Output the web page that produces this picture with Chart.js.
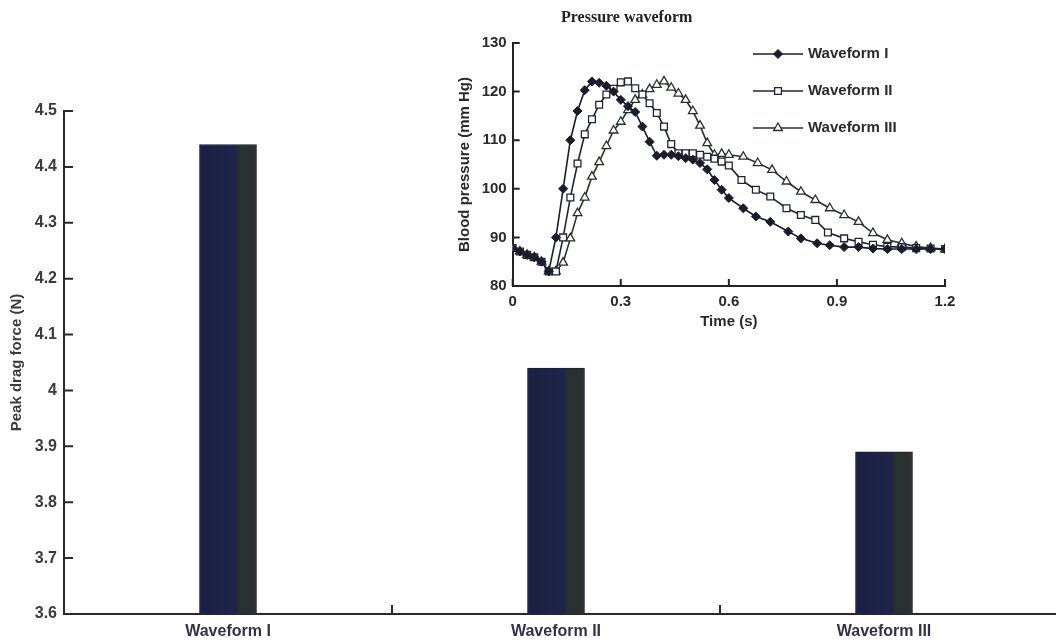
<!DOCTYPE html>
<html>
<head>
<meta charset="utf-8">
<script src="https://cdn.jsdelivr.net/npm/chart.js@4.4.1/dist/chart.umd.min.js"></script>
<style>
html,body{margin:0;padding:0;background:#fff;}
#wrap{position:relative;width:1056px;height:643px;overflow:hidden;}
#dragChart{position:absolute;left:0;top:0;}
#waveChart{position:absolute;left:450px;top:0;}
#insetTitle{position:absolute;left:561px;top:7px;font:bold 16px "Liberation Serif","Times New Roman",serif;line-height:20px;color:#222;white-space:nowrap;}
</style>
</head>
<body>
<div id="wrap">
  <canvas id="dragChart" width="1056" height="643"></canvas>
  <canvas id="waveChart" width="520" height="340"></canvas>
  <div id="insetTitle">Pressure waveform</div>
</div>
<script>
// main bar chart
const waveNames = ['Waveform I', 'Waveform II', 'Waveform III'];
const dragForce = [4.44, 4.04, 3.89];
const dragTicks = [3.6, 3.7, 3.8, 3.9, 4.0, 4.1, 4.2, 4.3, 4.4, 4.5];

// inset: pressure waveforms
const timeTicks = [0, 0.3, 0.6, 0.9, 1.2];
const pressureTicks = [80, 90, 100, 110, 120, 130];

const wave1Time = [0,0.02,0.04,0.06,0.08,0.10,0.12,0.14,0.16,0.18,0.20,0.22,0.24,0.26,0.28,0.30,0.32,0.34,0.36,0.38,0.40,0.42,0.44,0.46,0.48,0.50,0.52,0.54,0.56,0.58,0.60,0.64,0.675,0.715,0.765,0.80,0.845,0.88,0.92,0.96,1.0,1.04,1.08,1.12,1.16,1.2];
const wave1Pressure = [87.8,87.1,86.4,85.9,85.0,83.0,90.0,100.0,110.0,116.0,120.3,122.1,121.8,121.2,120.0,118.3,117.0,115.8,112.8,109.7,106.8,107.0,107.0,106.7,106.3,106.0,105.3,104.0,101.8,99.8,98.1,96.0,94.3,93.2,91.2,89.8,88.8,88.4,88.0,88.0,87.7,87.6,87.6,87.6,87.6,87.6];

const wave2Time = [0,0.02,0.04,0.06,0.08,0.10,0.12,0.14,0.16,0.18,0.20,0.22,0.24,0.26,0.28,0.30,0.32,0.34,0.36,0.38,0.40,0.42,0.44,0.46,0.48,0.50,0.52,0.54,0.56,0.58,0.60,0.635,0.675,0.715,0.76,0.80,0.84,0.875,0.92,0.96,1.0,1.04,1.08,1.12,1.16,1.2];
const wave2Pressure = [87.8,87.1,86.4,85.9,85.0,83.0,83.0,90.0,98.2,105.2,111.2,114.3,117.3,119.4,120.6,121.9,122.1,120.7,119.4,117.6,115.6,112.8,109.2,107.3,107.3,107.3,107.0,106.6,106.2,105.6,104.8,101.8,99.8,98.4,96.0,94.6,93.6,91.0,89.8,89.1,88.5,88.1,88.0,87.8,87.7,87.6];

const wave3Time = [0,0.02,0.04,0.06,0.08,0.10,0.12,0.14,0.16,0.18,0.20,0.22,0.24,0.26,0.28,0.30,0.32,0.34,0.36,0.38,0.40,0.42,0.44,0.46,0.48,0.50,0.52,0.54,0.56,0.58,0.60,0.64,0.68,0.72,0.76,0.80,0.84,0.88,0.92,0.96,1.0,1.04,1.08,1.12,1.16,1.2];
const wave3Pressure = [87.8,87.1,86.4,85.9,85.0,83.0,83.0,84.8,89.8,95.0,98.2,102.5,105.5,108.8,112.0,113.8,116.2,118.3,119.4,120.5,121.4,122.1,120.8,119.6,118.3,116.0,113.0,109.4,107.0,107.2,107.0,106.6,105.3,103.9,101.5,99.4,97.7,96.0,94.6,93.2,90.9,89.5,88.8,88.1,87.8,87.6];

const sans = '"Liberation Sans", Arial, sans-serif';

// ticks drawn inside the plot area, like the original figure
const inwardTicks = {
  id: 'inwardTicks',
  afterDatasetsDraw(chart, args, o){
    const {ctx, chartArea: a, scales} = chart;
    ctx.save();
    ctx.strokeStyle = o.color; ctx.lineWidth = o.width;
    ctx.beginPath();
    scales.y.ticks.forEach(t=>{
      const py = scales.y.getPixelForValue(t.value);
      ctx.moveTo(a.left, py); ctx.lineTo(a.left + o.len, py);
    });
    const xs = scales.x;
    if(o.boundaries){
      for(let i=0;i<chart.data.labels.length-1;i++){
        const px = (xs.getPixelForValue(i) + xs.getPixelForValue(i+1)) / 2;
        ctx.moveTo(px, a.bottom); ctx.lineTo(px, a.bottom - o.len);
      }
    }else{
      xs.ticks.forEach(t=>{
        const px = xs.getPixelForValue(t.value);
        ctx.moveTo(px, a.bottom); ctx.lineTo(px, a.bottom - o.len);
      });
    }
    if(o.extendTo){ ctx.moveTo(a.right, a.bottom); ctx.lineTo(o.extendTo, a.bottom); }
    ctx.stroke();
    ctx.restore();
  }
};

function barFill(c){
  const chart = c.chart;
  const xs = chart.scales && chart.scales.x;
  if(!xs || c.dataIndex === undefined) return '#1f2447';
  const cx = xs.getPixelForValue(c.dataIndex);
  if(!isFinite(cx)) return '#1f2447';
  const g = chart.ctx.createLinearGradient(cx - 28.5, 0, cx + 28.5, 0);
  g.addColorStop(0, '#1b2045');
  g.addColorStop(0.64, '#1f2548');
  g.addColorStop(0.69, '#283131');
  g.addColorStop(1, '#2b3230');
  return g;
}

new Chart(document.getElementById('dragChart'), {
  type: 'bar',
  data: {
    labels: waveNames,
    datasets: [{ data: dragForce, backgroundColor: barFill, borderColor: '#1b1e30', borderWidth: 1, barThickness: 57 }]
  },
  options: {
    responsive: false, animation: false, devicePixelRatio: 1,
    layout: { padding: { top: 111, right: 8, left: 0, bottom: 0 } },
    plugins: {
      legend: { display: false }, tooltip: { enabled: false },
      inwardTicks: { len: 9, color: '#2a2a2a', width: 2, boundaries: true, extendTo: 1056 }
    },
    scales: {
      x: {
        grid: { display: true, drawOnChartArea: false, drawTicks: false },
        border: { display: true, color: '#2a2a2a', width: 2 },
        ticks: { padding: 8, color: '#35304a', font: { family: sans, size: 16, weight: 'bold' } },
        afterFit: s=>{ s.height = 29; }
      },
      y: {
        min: 3.6, max: 4.5,
        afterBuildTicks: s=>{ s.ticks = dragTicks.map(v=>({ value: v })); },
        grid: { display: true, drawOnChartArea: false, drawTicks: false },
        border: { display: true, color: '#2a2a2a', width: 2 },
        ticks: { padding: 7, color: '#3b3b3b', font: { family: sans, size: 16, weight: 'bold' }, callback: v=>String(+Number(v).toFixed(1)) },
        title: { display: true, text: 'Peak drag force (N)', color: '#3b3b3b', padding: { top: 8, bottom: 0 }, font: { family: sans, size: 15, weight: 'bold' } },
        afterFit: s=>{ s.width = 64; }
      }
    }
  },
  plugins: [inwardTicks]
});

// legend drawn inside the inset plot area
const waveLegend = {
  id: 'waveLegend',
  afterDraw(chart, args, o){
    const ctx = chart.ctx;
    chart.data.datasets.forEach((ds, i)=>{
      const y = o.top + i * o.rowGap;
      const mx = o.left + o.lineLen / 2;
      ctx.save();
      ctx.strokeStyle = ds.borderColor; ctx.lineWidth = ds.borderWidth;
      ctx.beginPath(); ctx.moveTo(o.left, y); ctx.lineTo(o.left + o.lineLen, y); ctx.stroke();
      ctx.fillStyle = ds.pointBackgroundColor; ctx.strokeStyle = ds.pointBorderColor; ctx.lineWidth = ds.pointBorderWidth;
      if(Chart.helpers && Chart.helpers.drawPoint){
        Chart.helpers.drawPoint(ctx, { pointStyle: ds.pointStyle, radius: ds.pointRadius, borderWidth: ds.pointBorderWidth, rotation: 0 }, mx, y);
      }else{
        ctx.fillRect(mx - 3, y - 3, 6, 6); ctx.strokeRect(mx - 3, y - 3, 6, 6);
      }
      ctx.fillStyle = o.color; ctx.font = o.font; ctx.textBaseline = 'middle'; ctx.textAlign = 'left';
      ctx.fillText(ds.label, o.left + o.lineLen + o.gap, y);
      ctx.restore();
    });
  }
};

const toPoints = (ts, ps)=>ts.map((t, i)=>({ x: t, y: ps[i] }));

new Chart(document.getElementById('waveChart'), {
  type: 'line',
  data: {
    datasets: [
      { label: 'Waveform I', data: toPoints(wave1Time, wave1Pressure), borderColor: '#1a1c2c', borderWidth: 1.6, tension: 0, fill: false,
        pointStyle: 'rectRot', pointRadius: 4.5, pointBackgroundColor: '#1a1c2c', pointBorderColor: '#1a1c2c', pointBorderWidth: 1 },
      { label: 'Waveform II', data: toPoints(wave2Time, wave2Pressure), borderColor: '#1f2336', borderWidth: 1.6, tension: 0, fill: false,
        pointStyle: 'rect', pointRadius: 4.8, pointBackgroundColor: '#ffffff', pointBorderColor: '#1f2336', pointBorderWidth: 1.3 },
      { label: 'Waveform III', data: toPoints(wave3Time, wave3Pressure), borderColor: '#263326', borderWidth: 1.6, tension: 0, fill: false,
        pointStyle: 'triangle', pointRadius: 5, pointBackgroundColor: '#ffffff', pointBorderColor: '#263326', pointBorderWidth: 1.3 }
    ]
  },
  options: {
    responsive: false, animation: false, devicePixelRatio: 1,
    layout: { padding: { top: 43, right: 25, left: 0, bottom: 0 } },
    plugins: {
      legend: { display: false }, tooltip: { enabled: false },
      inwardTicks: { len: 7, color: '#222', width: 2, boundaries: false },
      waveLegend: { left: 303, top: 54, rowGap: 37, lineLen: 50, gap: 5, color: '#2a2a2a', font: 'bold 15px ' + sans }
    },
    scales: {
      x: {
        type: 'linear', min: 0, max: 1.2,
        afterBuildTicks: s=>{ s.ticks = timeTicks.map(v=>({ value: v })); },
        grid: { display: true, drawOnChartArea: false, drawTicks: false },
        border: { display: true, color: '#222', width: 2 },
        ticks: { padding: 7, color: '#2a2a2a', font: { family: sans, size: 15, weight: 'bold' }, callback: v=>String(v) },
        title: { display: true, text: 'Time (s)', color: '#2a2a2a', padding: { top: 0, bottom: 9 }, font: { family: sans, size: 15, weight: 'bold' } },
        afterFit: s=>{ s.height = 54; }
      },
      y: {
        min: 80, max: 130,
        afterBuildTicks: s=>{ s.ticks = pressureTicks.map(v=>({ value: v })); },
        grid: { display: true, drawOnChartArea: false, drawTicks: false },
        border: { display: true, color: '#222', width: 2 },
        ticks: { padding: 6, color: '#2a2a2a', font: { family: sans, size: 15, weight: 'bold' } },
        title: { display: true, text: 'Blood pressure (mm Hg)', color: '#2a2a2a', padding: { top: 6, bottom: 0 }, font: { family: sans, size: 15, weight: 'bold' } },
        afterFit: s=>{ s.width = 62.7; }
      }
    }
  },
  plugins: [inwardTicks, waveLegend]
});
</script>
</body>
</html>
